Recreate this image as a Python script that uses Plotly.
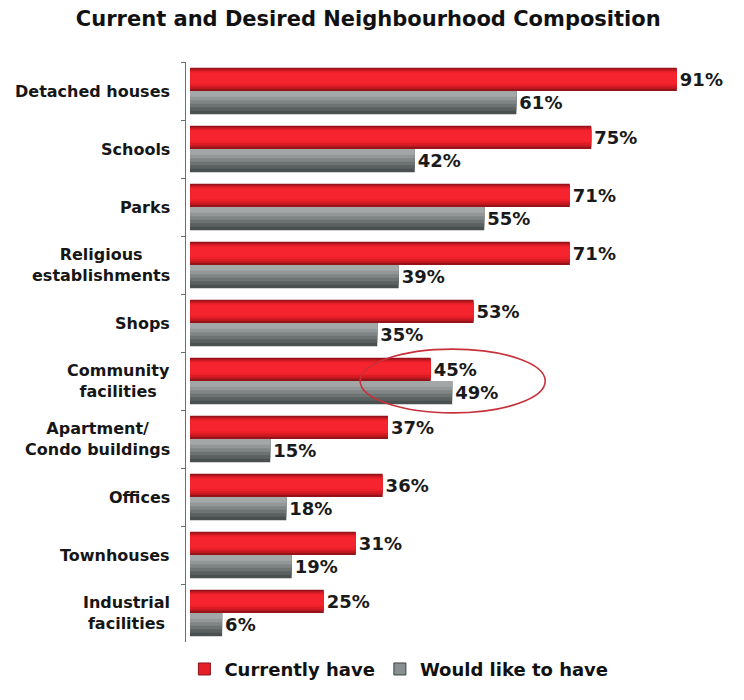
import plotly.graph_objects as go

# Survey results: share of respondents (%)
categories = [
    "Detached houses", "Schools", "Parks", "Religious<br>establishments", "Shops",
    "Community<br>facilities", "Apartment/<br>Condo buildings", "Offices",
    "Townhouses", "Industrial<br>facilities",
]
currently_have = [91, 75, 71, 71, 53, 45, 37, 36, 31, 25]
would_like = [61, 42, 55, 39, 35, 49, 15, 18, 19, 6]

FONT = "DejaVu Sans"
BAR_W = 0.4

fig = go.Figure()

# Shaded layers give the bars a bevelled look: (offset, width, colour)
red_layers = [
    (-BAR_W, BAR_W, "#96131a"),
    (-BAR_W + 0.025, BAR_W - 0.06, "#bd1820"),
    (-BAR_W + 0.045, BAR_W - 0.11, "#db1c25"),
    (-BAR_W + 0.065, BAR_W - 0.17, "#ee2029"),
    (-BAR_W + 0.085, BAR_W - 0.22, "#f5242e"),
]
gray_layers = [
    (0, BAR_W, "#4a5050"),
    (0, BAR_W * 0.85, "#5b6161"),
    (0, BAR_W * 0.70, "#6d7373"),
    (0, BAR_W * 0.55, "#808585"),
    (0, BAR_W * 0.40, "#929797"),
    (0, BAR_W * 0.25, "#a3a7a7"),
]

label_font = dict(family=FONT, size=18, color="#1a1a1a", weight="bold")

for values, layers, name in [(currently_have, red_layers, "Currently have"),
                             (would_like, gray_layers, "Would like to have")]:
    for i, (off, w, col) in enumerate(layers):
        fig.add_trace(go.Bar(
            y=categories, x=values, orientation="h", offset=off, width=w,
            marker=dict(color=col, line=dict(width=0)),
            name=name, showlegend=False, hoverinfo="skip",
            text=[f"{v}%" for v in values] if i == 0 else None,
            textposition="outside" if i == 0 else "none",
            textfont=label_font, cliponaxis=False,
        ))

# Legend entries
for name, col, edge in [("Currently have", "#e61e28", "#8a1218"),
                        ("Would like to have", "#8a8f90", "#3c4242")]:
    fig.add_trace(go.Bar(
        y=[None], x=[None], orientation="h", name=name,
        marker=dict(color=col, line=dict(color=edge, width=1)),
    ))

# Category labels, centred line by line
for cat in categories:
    fig.add_annotation(
        x=-0.026, xref="paper", y=cat, yref="y", text=cat, showarrow=False,
        xanchor="right", yanchor="middle", align="center",
        font=dict(family=FONT, size=16, color="#161616", weight="bold"),
    )

# Highlight around community facilities
fig.add_shape(
    type="circle", xref="x", yref="y",
    x0=31.8, x1=66.4, y0=4.45, y1=5.55,
    line=dict(color="#c8313b", width=1.6),
)

fig.update_layout(
    width=744, height=700,
    margin=dict(l=186, r=19, t=62, b=40),
    paper_bgcolor="white", plot_bgcolor="white",
    barmode="overlay",
    title=dict(
        text="Current and Desired Neighbourhood Composition",
        x=0.495, xanchor="center", y=0.974, yanchor="middle",
        font=dict(family=FONT, size=21, color="#111111", weight="bold"),
    ),
    xaxis=dict(range=[-0.75, 100], visible=False, fixedrange=True),
    yaxis=dict(
        type="category", autorange="reversed", showticklabels=False,
        showline=True, linecolor="#6e6e6e", linewidth=1,
        ticks="outside", ticklen=4, tickcolor="#6e6e6e", tickson="boundaries",
        showgrid=False, zeroline=False,
    ),
    legend=dict(
        orientation="h", x=0.395, xanchor="center", y=-0.047, yanchor="middle",
        font=dict(family=FONT, size=18, color="#111111", weight="bold"),
        itemwidth=30, traceorder="normal",
    ),
    showlegend=True,
)

fig.write_html("out.html")
